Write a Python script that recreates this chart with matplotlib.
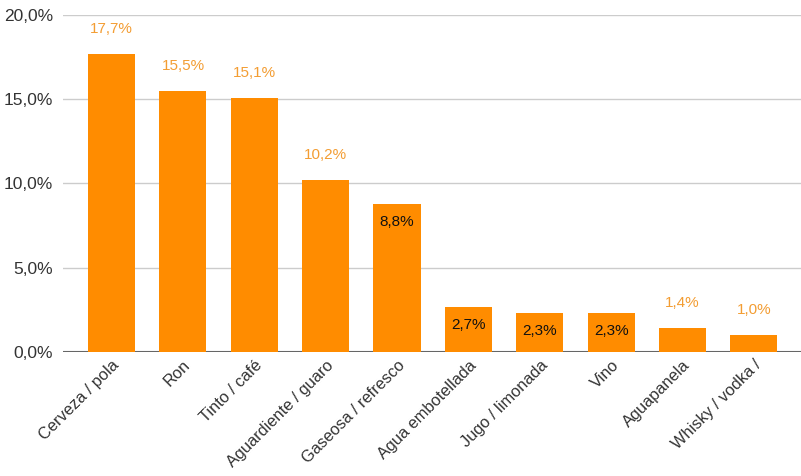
import matplotlib
matplotlib.use("Agg")
import matplotlib.pyplot as plt
import matplotlib.transforms as mtransforms
import numpy as np

categories = ["Cerveza / pola", "Ron", "Tinto / café", "Aguardiente / guaro",
              "Gaseosa / refresco", "Agua embotellada", "Jugo / limonada",
              "Vino", "Aguapanela", "Whisky / vodka /"]
values = [17.7, 15.5, 15.1, 10.2, 8.8, 2.7, 2.3, 2.3, 1.4, 1.0]
label_inside = [False, False, False, False, True, True, True, True, False, False]
yticks = [0, 5, 10, 15, 20]

bar_color = "#FF8C00"
label_orange = "#F39D33"
text_dark = "#333333"

plt.rcParams['font.family'] = ['Liberation Sans', 'DejaVu Sans']

fig = plt.figure(figsize=(8.01, 4.76), dpi=100)
ax = fig.add_axes([0.0787, 0.2605, 0.9213, 0.708])

x = np.arange(len(categories))
ax.bar(x, values, width=0.66, color=bar_color, zorder=3)

for xi, v, inside in zip(x, values, label_inside):
    txt = f"{v:.1f}%".replace(".", ",")
    if inside:
        ax.annotate(txt, (xi, v), xytext=(0, -13), textcoords="offset points",
                    ha="center", va="center", fontsize=11, color="#111111", zorder=4)
    else:
        ax.annotate(txt, (xi, v), xytext=(0, 18), textcoords="offset points",
                    ha="center", va="center", fontsize=11, color=label_orange, zorder=4)

ax.set_xlim(-0.68, len(categories) - 1 + 0.66)
ax.set_ylim(0, 20)
ax.set_yticks(yticks)
ax.set_yticklabels([f"{t:.1f}%".replace(".", ",") for t in yticks],
                   fontsize=12.5, color=text_dark)
ax.set_xticks(x)
ax.set_xticklabels(categories, rotation=45, ha="right", rotation_mode="anchor",
                   fontsize=11.8, color=text_dark)
shift = mtransforms.ScaledTranslation(6 / 100, 0, fig.dpi_scale_trans)
for lbl in ax.get_xticklabels():
    lbl.set_transform(lbl.get_transform() + shift)
ax.tick_params(axis="both", length=0)
ax.tick_params(axis="x", pad=4)
ax.tick_params(axis="y", pad=7)

ax.yaxis.grid(True, color="#cccccc", linewidth=1, zorder=0)
ax.axhline(0, color="#666666", linewidth=1.5, zorder=2)
for s in ax.spines.values():
    s.set_visible(False)

fig.savefig("out.png", dpi=100)
